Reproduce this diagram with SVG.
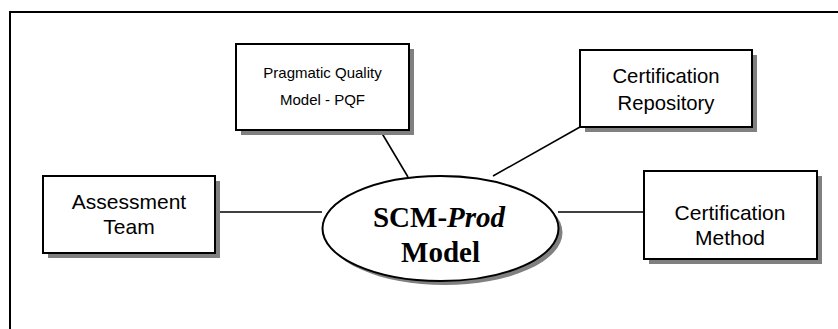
<svg xmlns="http://www.w3.org/2000/svg" width="838" height="329" viewBox="0 0 838 329">
<style>
.box{fill:#fff;stroke:#000;stroke-width:2}
.shadow{fill:#808080;stroke:none}
.lbl{font-family:"Liberation Sans",Arial,sans-serif;fill:#000;text-anchor:middle}
.conn{stroke:#000;stroke-width:1.6;fill:none}
.big{font-family:"Liberation Serif","Times New Roman",serif;font-weight:bold;font-size:29px;text-anchor:middle;fill:#000}
</style>
<rect width="838" height="329" fill="#fff"/>
<rect x="10" y="12" width="840" height="330" fill="none" stroke="#000" stroke-width="2"/>
<g id="connectors">
<line class="conn" x1="380" y1="130" x2="408" y2="177"/>
<line class="conn" x1="580" y1="127" x2="493" y2="176"/>
<line class="conn" x1="215" y1="212" x2="322" y2="212"/>
<line class="conn" x1="558" y1="212" x2="644" y2="212"/>
</g>
<g id="pqf">
<rect class="shadow" x="241" y="49" width="173" height="86"/>
<rect class="box" x="236" y="44" width="173" height="86"/>
<text class="lbl" font-size="15" x="322.5" y="78">Pragmatic Quality</text>
<text class="lbl" font-size="15" x="322.5" y="105">Model - PQF</text>
</g>
<g id="repository">
<rect class="shadow" x="585" y="55" width="172" height="77"/>
<rect class="box" x="580" y="50" width="172" height="77"/>
<text class="lbl" font-size="20.3" x="666" y="83">Certification</text>
<text class="lbl" font-size="20.3" x="666" y="110">Repository</text>
</g>
<g id="assessment">
<rect class="shadow" x="48" y="181" width="172" height="77"/>
<rect class="box" x="43" y="176" width="172" height="77"/>
<text class="lbl" font-size="21" x="129" y="209">Assessment</text>
<text class="lbl" font-size="21" x="129" y="234">Team</text>
</g>
<g id="method">
<rect class="shadow" x="649" y="176" width="173" height="88"/>
<rect class="box" x="644" y="171" width="173" height="88"/>
<text class="lbl" font-size="21" x="730" y="220">Certification</text>
<text class="lbl" font-size="21" x="730" y="245">Method</text>
</g>
<g id="scmprod">
<ellipse class="shadow" cx="444.5" cy="232.5" rx="118" ry="52.5"/>
<ellipse cx="440.5" cy="228.5" rx="118" ry="52.5" fill="#fff" stroke="#000" stroke-width="2"/>
<text class="big" x="439" y="227">SCM-<tspan font-style="italic">Prod</tspan></text>
<text class="big" font-size="30" x="440.5" y="262">Model</text>
</g>
</svg>
